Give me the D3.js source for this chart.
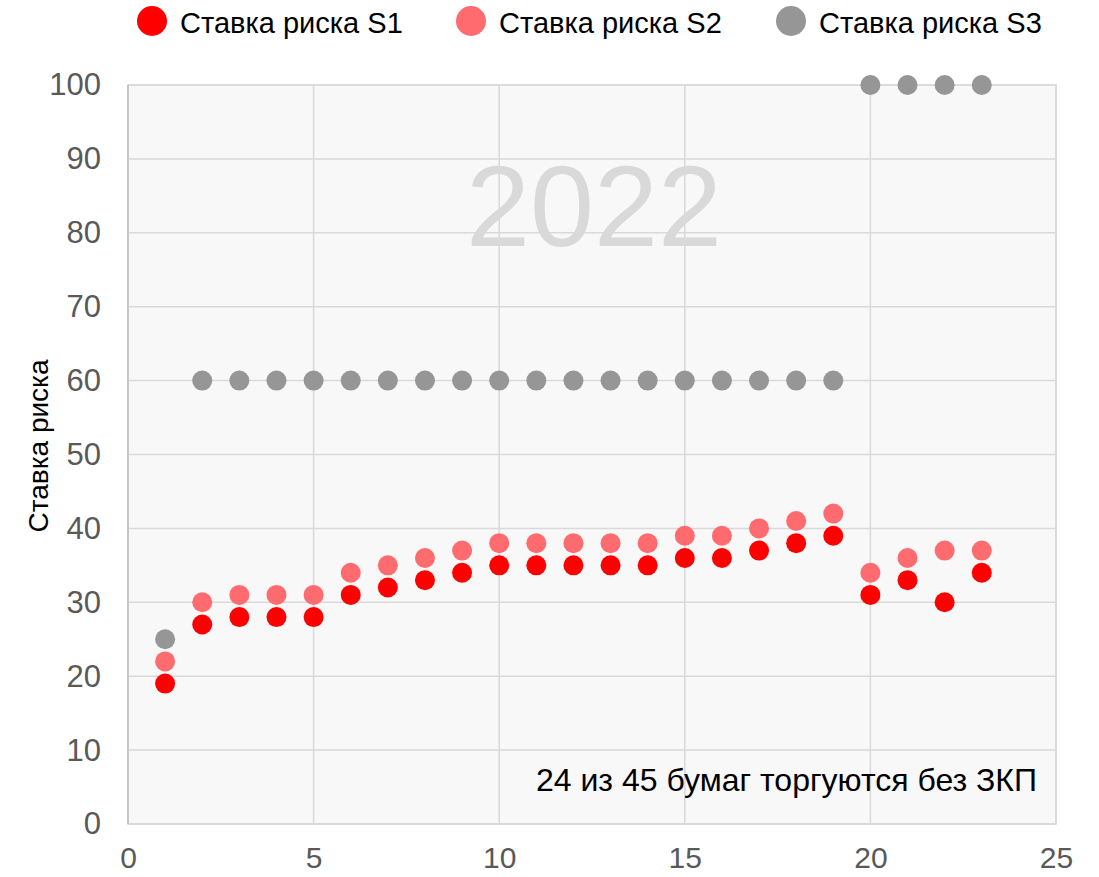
<!DOCTYPE html>
<html>
<head>
<meta charset="utf-8">
<script src="https://cdn.jsdelivr.net/npm/d3@7"></script>
<style>
  body { margin: 0; background: #fff; }
  svg { font-family: "Liberation Sans", Arial, sans-serif; }
</style>
</head>
<body>
<svg id="chart" width="1099" height="877"></svg>
<script>
// x positions (paper number)
var papers = d3.range(1, 24);

// risk rates per series
var s1Values = [19, 27, 28, 28, 28, 31, 32, 33, 34, 35, 35, 35, 35, 35, 36, 36, 37, 38, 39, 31, 33, 30, 34];
var s2Values = [22, 30, 31, 31, 31, 34, 35, 36, 37, 38, 38, 38, 38, 38, 39, 39, 40, 41, 42, 34, 36, 37, 37];
var s3Values = [25, 60, 60, 60, 60, 60, 60, 60, 60, 60, 60, 60, 60, 60, 60, 60, 60, 60, 60, 100, 100, 100, 100];

var seriesNames = ["Ставка риска S1", "Ставка риска S2", "Ставка риска S3"];
var seriesColors = ["#ff0000", "#ff6b6e", "#969696"];

var xTicks = [0, 5, 10, 15, 20, 25];
var yTicks = [0, 10, 20, 30, 40, 50, 60, 70, 80, 90, 100];

var svg = d3.select("#chart");

var plot = {left: 128, right: 1056, top: 85, bottom: 824};

var x = d3.scaleLinear().domain([0, 25]).range([plot.left, plot.right]);
var y = d3.scaleLinear().domain([0, 100]).range([plot.bottom, plot.top]);

// plot background
svg.append("rect")
  .attr("x", plot.left).attr("y", plot.top)
  .attr("width", plot.right - plot.left).attr("height", plot.bottom - plot.top)
  .attr("fill", "#f8f8f8")
  .attr("stroke", "#d9d9d9").attr("stroke-width", 1.5);

// gridlines
svg.append("g")
  .selectAll("line")
  .data(yTicks)
  .enter().append("line")
    .attr("x1", plot.left).attr("x2", plot.right)
    .attr("y1", function(d) { return y(d); })
    .attr("y2", function(d) { return y(d); })
    .attr("stroke", "#d9d9d9").attr("stroke-width", 1.5);

svg.append("g")
  .selectAll("line")
  .data(xTicks)
  .enter().append("line")
    .attr("x1", function(d) { return x(d); })
    .attr("x2", function(d) { return x(d); })
    .attr("y1", plot.top).attr("y2", plot.bottom)
    .attr("stroke", "#d9d9d9").attr("stroke-width", 1.5);

// left axis line a bit darker
svg.append("line")
  .attr("x1", plot.left).attr("x2", plot.left)
  .attr("y1", plot.top).attr("y2", plot.bottom)
  .attr("stroke", "#c6c6c6").attr("stroke-width", 2);

// axes (labels only)
var yAxis = svg.append("g")
  .attr("transform", "translate(" + plot.left + ",0)")
  .call(d3.axisLeft(y).tickValues(yTicks).tickSize(0).tickPadding(27));
yAxis.select(".domain").remove();
yAxis.selectAll("text")
  .attr("fill", "#595959")
  .style("font-size", "31px")
  .style("font-family", "Liberation Sans, Arial, sans-serif");

var xAxis = svg.append("g")
  .attr("transform", "translate(0," + plot.bottom + ")")
  .call(d3.axisBottom(x).tickValues(xTicks).tickSize(0).tickPadding(23));
xAxis.select(".domain").remove();
xAxis.selectAll("text")
  .attr("fill", "#595959")
  .style("font-size", "30px")
  .style("font-family", "Liberation Sans, Arial, sans-serif");

// year watermark
svg.append("text")
  .attr("x", 594).attr("y", 246)
  .attr("text-anchor", "middle")
  .attr("fill", "#d9d9d9")
  .style("font-size", "115px")
  .text("2022");

// note
svg.append("text")
  .attr("x", 1037).attr("y", 791)
  .attr("text-anchor", "end")
  .attr("fill", "#000")
  .style("font-size", "32px")
  .text("24 из 45 бумаг торгуются без ЗКП");

// y axis title
svg.append("text")
  .attr("transform", "translate(48,446) rotate(-90)")
  .attr("text-anchor", "middle")
  .attr("fill", "#000")
  .style("font-size", "28px")
  .text("Ставка риска");

// the dots
var allSeries = [s1Values, s2Values, s3Values];
allSeries.forEach(function(vals, i) {
  svg.append("g")
    .selectAll("circle")
    .data(vals)
    .enter().append("circle")
      .attr("cx", function(d, j) { return x(papers[j]); })
      .attr("cy", function(d) { return y(d); })
      .attr("r", 10)
      .attr("fill", seriesColors[i]);
});

// legend
var legendX = [152, 471, 791];
var legend = svg.append("g")
  .selectAll("g")
  .data(seriesNames)
  .enter().append("g")
    .attr("transform", function(d, i) { return "translate(" + legendX[i] + ",21)"; });
legend.append("circle")
  .attr("r", 15)
  .attr("fill", function(d, i) { return seriesColors[i]; });
legend.append("text")
  .attr("x", 28).attr("y", 12)
  .attr("fill", "#000")
  .style("font-size", "29px")
  .text(function(d) { return d; });
</script>
</body>
</html>
